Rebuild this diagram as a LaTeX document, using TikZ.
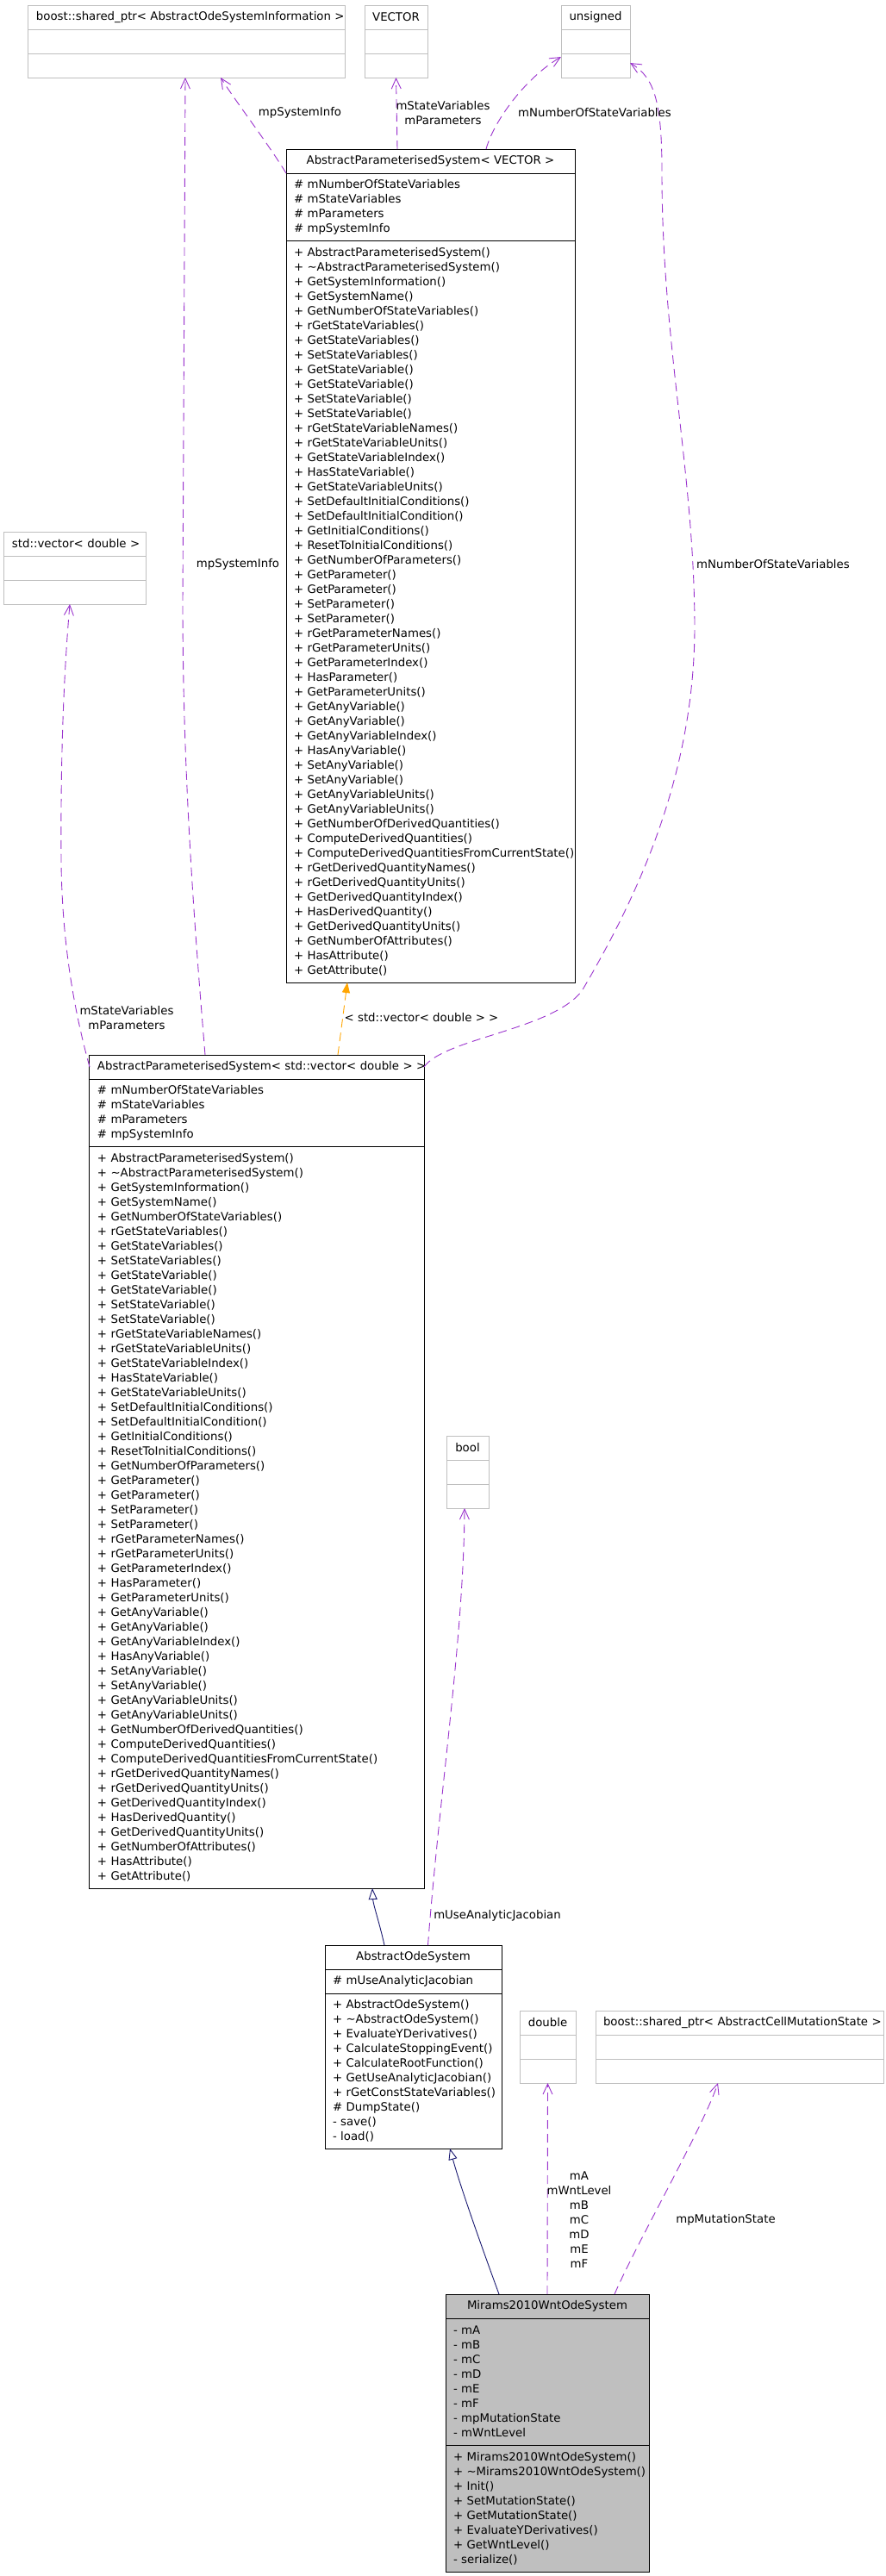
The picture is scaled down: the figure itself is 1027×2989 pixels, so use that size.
\documentclass[tikz,border=0pt]{standalone}
\usepackage{fontspec}
\usepackage{xcolor}
\usepackage{tikz}
\usetikzlibrary{arrows.meta, positioning, calc}
\newfontfamily\umlfont{DejaVu Sans}
\definecolor{usepurple}{HTML}{9A32CD}
\definecolor{inheritnavy}{HTML}{191970}
\definecolor{templorange}{HTML}{FFA500}
\definecolor{extgray}{HTML}{BFBFBF}
\definecolor{focusgray}{HTML}{BFBFBF}
\newcommand{\pub}{+\nobreakspace}
\newcommand{\pro}{\#\nobreakspace}
\newcommand{\pri}{-\nobreakspace}
\newcommand{\dtor}{\textasciitilde}
\hyphenpenalty=10000
\exhyphenpenalty=10000

\tikzset{
  umltext/.style={font=\umlfont\fontsize{13.3bp}{17bp}\selectfont},
  classtitle/.style 2 args={umltext, draw, line width=1bp, fill=white, anchor=north, outer sep=0pt, inner xsep=9bp, inner ysep=0pt, text width=#1, minimum height=#2, align=center},
  classpart/.style 2 args={umltext, draw, line width=1bp, fill=white, anchor=north, outer sep=0pt, inner xsep=9bp, inner ysep=0pt, text width=#1, minimum height=#2, align=left},
  extclass/.style={draw=extgray},
  focusclass/.style={fill=focusgray},
  usage/.style={draw=usepurple, line width=0.9bp, dash pattern=on 10bp off 6bp, -{Straight Barb[length=12bp,width=11bp,line width=0.9bp]}},
  inherit/.style={draw=inheritnavy, line width=0.9bp, -{Triangle[open,length=13bp,width=10bp,line width=0.9bp]}},
  templ/.style={draw=templorange, line width=0.9bp, dash pattern=on 10bp off 6bp, -{Triangle[length=12bp,width=9bp]}},
  edgelabel/.style={umltext, align=center, inner sep=0pt}
}

\begin{document}
\begin{tikzpicture}[x=1bp, y=-1bp]
\useasboundingbox (0,0) rectangle (1027,2989);

% External classes at the top
\node[classtitle={349bp}{28bp}, extclass] at (216.5,6) (boostinfo) {\mbox{boost::shared\_ptr< AbstractOdeSystemInformation >}};
\node[classpart={349bp}{28bp}, extclass, below=0pt of boostinfo] (boostinfo-a) {};
\node[classpart={349bp}{28bp}, extclass, below=0pt of boostinfo-a] (boostinfo-m) {};

\node[classtitle={55bp}{28bp}, extclass] at (459.5,6) (VECTOR) {VECTOR};
\node[classpart={55bp}{28bp}, extclass, below=0pt of VECTOR] (VECTOR-a) {};
\node[classpart={55bp}{28bp}, extclass, below=0pt of VECTOR-a] (VECTOR-m) {};

\node[classtitle={62bp}{28bp}, extclass] at (691,6) (unsigned) {unsigned};
\node[classpart={62bp}{28bp}, extclass, below=0pt of unsigned] (unsigned-a) {};
\node[classpart={62bp}{28bp}, extclass, below=0pt of unsigned-a] (unsigned-m) {};

\node[classtitle={146bp}{28bp}, extclass] at (87,617) (stdvec) {\mbox{std::vector< double >}};
\node[classpart={146bp}{28bp}, extclass, below=0pt of stdvec] (stdvec-a) {};
\node[classpart={146bp}{28bp}, extclass, below=0pt of stdvec-a] (stdvec-m) {};

% Template class
\node[classtitle={317bp}{28bp}] at (499.5,173) (apsv) {\mbox{AbstractParameterisedSystem< VECTOR >}};
\node[classpart={317bp}{78bp}, below=0pt of apsv] (apsv-a) {\pro mNumberOfStateVariables\\\pro mStateVariables\\\pro mParameters\\\pro mpSystemInfo};
\node[classpart={317bp}{861bp}, below=0pt of apsv-a] (apsv-m) {\pub AbstractParameterisedSystem()\\\pub \dtor AbstractParameterisedSystem()\\\pub GetSystemInformation()\\\pub GetSystemName()\\\pub GetNumberOfStateVariables()\\\pub rGetStateVariables()\\\pub GetStateVariables()\\\pub SetStateVariables()\\\pub GetStateVariable()\\\pub GetStateVariable()\\\pub SetStateVariable()\\\pub SetStateVariable()\\\pub rGetStateVariableNames()\\\pub rGetStateVariableUnits()\\\pub GetStateVariableIndex()\\\pub HasStateVariable()\\\pub GetStateVariableUnits()\\\pub SetDefaultInitialConditions()\\\pub SetDefaultInitialCondition()\\\pub GetInitialConditions()\\\pub ResetToInitialConditions()\\\pub GetNumberOfParameters()\\\pub GetParameter()\\\pub GetParameter()\\\pub SetParameter()\\\pub SetParameter()\\\pub rGetParameterNames()\\\pub rGetParameterUnits()\\\pub GetParameterIndex()\\\pub HasParameter()\\\pub GetParameterUnits()\\\pub GetAnyVariable()\\\pub GetAnyVariable()\\\pub GetAnyVariableIndex()\\\pub HasAnyVariable()\\\pub SetAnyVariable()\\\pub SetAnyVariable()\\\pub GetAnyVariableUnits()\\\pub GetAnyVariableUnits()\\\pub GetNumberOfDerivedQuantities()\\\pub ComputeDerivedQuantities()\\\pub ComputeDerivedQuantitiesFromCurrentState()\\\pub rGetDerivedQuantityNames()\\\pub rGetDerivedQuantityUnits()\\\pub GetDerivedQuantityIndex()\\\pub HasDerivedQuantity()\\\pub GetDerivedQuantityUnits()\\\pub GetNumberOfAttributes()\\\pub HasAttribute()\\\pub GetAttribute()};

% Instantiated class
\node[classtitle={370bp}{28bp}] at (298,1224) (apssv) {\mbox{AbstractParameterisedSystem< std::vector< double > >}};
\node[classpart={370bp}{78bp}, below=0pt of apssv] (apssv-a) {\pro mNumberOfStateVariables\\\pro mStateVariables\\\pro mParameters\\\pro mpSystemInfo};
\node[classpart={370bp}{861bp}, below=0pt of apssv-a] (apssv-m) {\pub AbstractParameterisedSystem()\\\pub \dtor AbstractParameterisedSystem()\\\pub GetSystemInformation()\\\pub GetSystemName()\\\pub GetNumberOfStateVariables()\\\pub rGetStateVariables()\\\pub GetStateVariables()\\\pub SetStateVariables()\\\pub GetStateVariable()\\\pub GetStateVariable()\\\pub SetStateVariable()\\\pub SetStateVariable()\\\pub rGetStateVariableNames()\\\pub rGetStateVariableUnits()\\\pub GetStateVariableIndex()\\\pub HasStateVariable()\\\pub GetStateVariableUnits()\\\pub SetDefaultInitialConditions()\\\pub SetDefaultInitialCondition()\\\pub GetInitialConditions()\\\pub ResetToInitialConditions()\\\pub GetNumberOfParameters()\\\pub GetParameter()\\\pub GetParameter()\\\pub SetParameter()\\\pub SetParameter()\\\pub rGetParameterNames()\\\pub rGetParameterUnits()\\\pub GetParameterIndex()\\\pub HasParameter()\\\pub GetParameterUnits()\\\pub GetAnyVariable()\\\pub GetAnyVariable()\\\pub GetAnyVariableIndex()\\\pub HasAnyVariable()\\\pub SetAnyVariable()\\\pub SetAnyVariable()\\\pub GetAnyVariableUnits()\\\pub GetAnyVariableUnits()\\\pub GetNumberOfDerivedQuantities()\\\pub ComputeDerivedQuantities()\\\pub ComputeDerivedQuantitiesFromCurrentState()\\\pub rGetDerivedQuantityNames()\\\pub rGetDerivedQuantityUnits()\\\pub GetDerivedQuantityIndex()\\\pub HasDerivedQuantity()\\\pub GetDerivedQuantityUnits()\\\pub GetNumberOfAttributes()\\\pub HasAttribute()\\\pub GetAttribute()};

% bool
\node[classtitle={31bp}{28bp}, extclass] at (542.5,1666) (bool) {bool};
\node[classpart={31bp}{28bp}, extclass, below=0pt of bool] (bool-a) {};
\node[classpart={31bp}{28bp}, extclass, below=0pt of bool-a] (bool-m) {};

% AbstractOdeSystem
\node[classtitle={187bp}{28bp}] at (479.5,2257) (aos) {AbstractOdeSystem};
\node[classpart={187bp}{28bp}, below=0pt of aos] (aos-a) {\pro mUseAnalyticJacobian};
\node[classpart={187bp}{180bp}, below=0pt of aos-a] (aos-m) {\pub AbstractOdeSystem()\\\pub \dtor AbstractOdeSystem()\\\pub EvaluateYDerivatives()\\\pub CalculateStoppingEvent()\\\pub CalculateRootFunction()\\\pub GetUseAnalyticJacobian()\\\pub rGetConstStateVariables()\\\pro DumpState()\\\pri save()\\\pri load()};

% double and mutation state
\node[classtitle={47bp}{28bp}, extclass] at (635.5,2333) (double) {double};
\node[classpart={47bp}{28bp}, extclass, below=0pt of double] (double-a) {};
\node[classpart={47bp}{28bp}, extclass, below=0pt of double-a] (double-m) {};

\node[classtitle={316bp}{28bp}, extclass] at (858,2333) (boostcell) {\mbox{boost::shared\_ptr< AbstractCellMutationState >}};
\node[classpart={316bp}{28bp}, extclass, below=0pt of boostcell] (boostcell-a) {};
\node[classpart={316bp}{28bp}, extclass, below=0pt of boostcell-a] (boostcell-m) {};

% Mirams2010WntOdeSystem
\node[classtitle={218bp}{28bp}, focusclass] at (635,2662) (mirams) {Mirams2010WntOdeSystem};
\node[classpart={218bp}{147bp}, focusclass, below=0pt of mirams] (mirams-a) {\pri mA\\\pri mB\\\pri mC\\\pri mD\\\pri mE\\\pri mF\\\pri mpMutationState\\\pri mWntLevel};
\node[classpart={218bp}{147bp}, focusclass, below=0pt of mirams-a] (mirams-m) {\pub Mirams2010WntOdeSystem()\\\pub \dtor Mirams2010WntOdeSystem()\\\pub Init()\\\pub SetMutationState()\\\pub GetMutationState()\\\pub EvaluateYDerivatives()\\\pub GetWntLevel()\\\pri serialize()};

% Usage relations of the template
\draw[usage] (apsv.south west) .. controls (310,165) and (275,120) .. ($(boostinfo-m.south)+(39.5,0)$);
\draw[usage] ($(apsv.north)+(-38.5,0)$) -- (VECTOR-m.south);
\draw[usage] ($(apsv.north)+(64.5,0)$) .. controls (573,140) and (610,90) .. ($(unsigned-m.north west)+(0,4)$);

% Usage relations of the instantiation
\draw[usage] ($(apssv.north)+(-60,0)$) .. controls (226,1080) and (212,900) .. (212,700) -- ($(boostinfo-m.south)+(-1.5,0)$);
\draw[usage] (apssv.east) .. controls (515,1205) and (640,1195) .. (675,1150) .. controls (740,1040) and (805,900) .. (806,730) .. controls (806,550) and (768,400) .. (768,200) .. controls (768,120) and (760,90) .. ($(unsigned-m.north east)+(0,11)$);
\draw[usage] (apssv.west) .. controls (88,1180) and (72,1100) .. (71,1000) .. controls (70,850) and (76,760) .. ($(stdvec-m.south)+(-6,0)$);
\draw[templ] ($(apssv.north)+(94,0)$) -- ($(apsv-m.south)+(-96.5,0)$);

% AbstractOdeSystem relations
\draw[inherit] ($(aos.north)+(-33.5,0)$) .. controls (440,2230) and (433,2210) .. ($(apssv-m.south)+(134,0)$);
\draw[usage] ($(aos.north)+(17,0)$) .. controls (510,2080) and (538,1900) .. ($(bool-m.south)+(-3.5,0)$);

% Mirams2010WntOdeSystem relations
\draw[inherit] ($(mirams.north)+(-56,0)$) .. controls (560,2610) and (535,2540) .. ($(aos-m.south)+(42.5,0)$);
\draw[usage] (mirams.north) -- (double-m.south);
\draw[usage] ($(mirams.north)+(78,0)$) .. controls (740,2600) and (815,2470) .. ($(boostcell-m.south)+(-25,0)$);

% Edge labels
\node[edgelabel] at (348,131) (lbl-info-a) {mpSystemInfo};
\node[edgelabel] at (514,131.5) (lbl-vec) {mStateVariables\\mParameters};
\node[edgelabel] at (690,131) (lbl-nsv-a) {mNumberOfStateVariables};
\node[edgelabel] at (276,655) (lbl-info-b) {mpSystemInfo};
\node[edgelabel] at (897,655) (lbl-nsv-b) {mNumberOfStateVariables};
\node[edgelabel] at (147,1181) (lbl-svec) {mStateVariables\\mParameters};
\node[edgelabel] at (489,1181) (lbl-tmpl) {< std::vector< double > >};
\node[edgelabel] at (577,2223) (lbl-jac) {mUseAnalyticJacobian};
\node[edgelabel] at (672,2576) (lbl-dbl) {mA\\mWntLevel\\mB\\mC\\mD\\mE\\mF};
\node[edgelabel] at (842,2576) (lbl-mut) {mpMutationState};
\end{tikzpicture}
\end{document}
